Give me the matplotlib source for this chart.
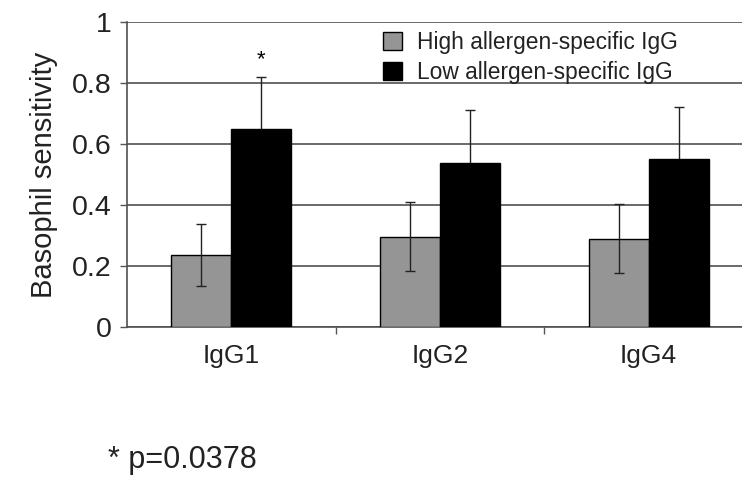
import numpy as np
import matplotlib
matplotlib.use("Agg")
import matplotlib.pyplot as plt
from matplotlib.ticker import FixedLocator

plt.rcParams['font.family'] = ['Liberation Sans', 'DejaVu Sans']

#DATA
categories = ["IgG1", "IgG2", "IgG4"]
high_vals = [0.236, 0.296, 0.290]
high_err = [0.102, 0.113, 0.114]
low_vals = [0.650, 0.537, 0.550]
low_err = [0.170, 0.176, 0.170]
series_labels = ["High allergen-specific IgG", "Low allergen-specific IgG"]
y_ticks = [0, 0.2, 0.4, 0.6, 0.8, 1]
y_ticklabels = ["0", "0.2", "0.4", "0.6", "0.8", "1"]

fig = plt.figure(figsize=(7.42, 4.84), dpi=100)
# the original is cropped on the right, so the axes run past the figure edge
ax = fig.add_axes([127/742, 1 - 327/484, 626/742, 305/484])

x = np.arange(len(categories))
w = 0.2875

ax.bar(x - w/2, high_vals, w, color="#959595", edgecolor="black", linewidth=1,
       label=series_labels[0], zorder=3)
ax.bar(x + w/2, low_vals, w, color="black", edgecolor="black", linewidth=1,
       label=series_labels[1], zorder=3)
ax.errorbar(x - w/2, high_vals, yerr=high_err, fmt="none", ecolor="#222222",
            elinewidth=1, capsize=3.5, capthick=1, zorder=4)
ax.errorbar(x + w/2, low_vals, yerr=low_err, fmt="none", ecolor="#222222",
            elinewidth=1, capsize=3.5, capthick=1, zorder=2)

# significance star over IgG1
ax.text(x[0] + w/2, low_vals[0] + low_err[0] + 0.055, "*", ha="center", va="center",
        fontsize=16)

ax.set_xlim(-0.5, len(categories) - 0.5)
ax.set_ylim(0, 1)
ax.set_yticks(y_ticks)
ax.set_yticklabels(y_ticklabels, fontsize=20.5, color="#222222")
ax.yaxis.grid(True, color="#505050", linewidth=1.2, zorder=0)
ax.set_axisbelow(True)

ax.set_xticks(x)
ax.set_xticklabels(categories, fontsize=19, color="#222222")
ax.tick_params(axis="x", length=0, pad=12)
ax.xaxis.set_minor_locator(FixedLocator([0.5, 1.5]))
ax.tick_params(axis="x", which="minor", length=5, width=1, color="#555555")
ax.tick_params(axis="y", length=5, width=1, color="#555555", pad=6)

ax.set_ylabel("Basophil sensitivity", fontsize=21, color="#222222", labelpad=10)

for s in ["top", "right"]:
    ax.spines[s].set_visible(False)
for s in ["left", "bottom"]:
    ax.spines[s].set_color("#505050")
    ax.spines[s].set_linewidth(1.2)

leg = fig.legend(loc="upper left", bbox_to_anchor=(383/742, 1 - 31/484),
                 frameon=False, fontsize=16.4, handlelength=0.85, handleheight=0.85,
                 handletextpad=0.65, labelspacing=0.3, borderpad=0, borderaxespad=0)
for t in leg.get_texts():
    t.set_color("#222222")

fig.text(108/742, 1 - 460/484, "* p=0.0378", fontsize=22, va="center", ha="left",
         color="#222222")

plt.savefig("out.png", dpi=100)
